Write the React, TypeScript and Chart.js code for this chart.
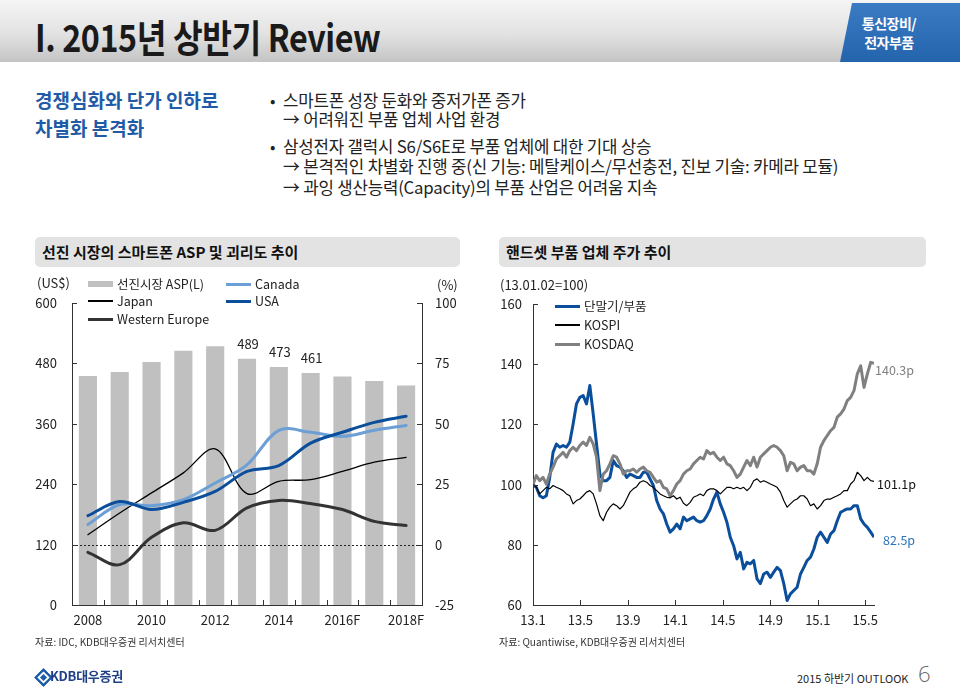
import React, { useEffect, useRef } from 'react';
import { Chart, registerables } from 'chart.js';

Chart.register(...registerables);

const FONT = '"Noto Sans CJK KR", "Noto Sans", sans-serif';

// ---------- Left chart data ----------
const aspYears = ['2008', '2009', '2010', '2011', '2012', '2013', '2014', '2015', '2016F', '2017F', '2018F'];
const aspTickLabels = ['2008', '', '2010', '', '2012', '', '2014', '', '2016F', '', '2018F'];
const aspValues = [455, 463, 483, 505, 514, 489, 473, 461, 454, 445, 436];
const aspLabelledIdx = [5, 6, 7];
const japanGap = [4.1, 13.1, 21.4, 29.7, 39.6, 21.1, 26.2, 26.9, 30.3, 34.1, 36.1];
const westernEuropeGap = [-3.2, -8.3, 3.0, 9.0, 5.9, 15.2, 18.3, 17.0, 14.5, 9.6, 7.9];
const canadaGap = [8.3, 16.6, 16.1, 18.6, 25.5, 33.0, 47.3, 46.5, 44.8, 47.3, 49.3];
const usaGap = [12.0, 17.8, 14.5, 17.5, 22.0, 30.3, 32.7, 42.0, 46.5, 50.6, 53.1];
const aspLeftTicks = [0, 120, 240, 360, 480, 600];
const aspRightTicks = [-25, 0, 25, 50, 75, 100];

// ---------- Right chart data (index, 13.01.02 = 100), sampled about every 6 trading days ----------
const SAMPLE_STEP_MONTHS = 0.2818;
const terminalIdx = [
  100, 99.1, 96.3, 95.6, 96.3, 102.4, 110.7, 113.5, 112.4, 113.0,
  112.4, 114.1, 120.1, 126.8, 129.0, 129.6, 126.8, 132.9, 123.5, 113.5,
  103.5, 101.3, 101.3, 102.4, 108.0, 106.3, 105.8, 104.6, 102.4, 103.5,
  103.0, 102.4, 102.4, 104.1, 104.1, 101.9, 99.7, 94.7, 91.9, 90.3,
  86.9, 84.2, 85.3, 86.9, 85.3, 89.2, 88.0, 88.6, 89.2, 88.0,
  87.5, 88.0, 89.7, 91.9, 95.2, 97.5, 93.6, 90.8, 87.5, 82.5,
  79.7, 75.3, 77.5, 72.0, 74.2, 73.7, 74.8, 68.7, 67.1, 70.3,
  70.9, 69.2, 70.9, 72.5, 71.4, 67.1, 61.5, 63.7, 64.8, 65.9,
  70.3, 72.5, 74.8, 75.9, 78.6, 82.5, 84.2, 82.5, 80.8, 83.6,
  84.7, 88.0, 90.8, 91.4, 91.9, 91.9, 93.0, 93.0, 88.6, 86.9,
  85.8, 84.2, 82.5,
];
const kospiIdx = [
  100, 99.1, 96.9, 98.0, 99.1, 98.6, 99.7, 99.1, 98.6, 98.0,
  96.9, 96.3, 93.6, 94.7, 95.2, 96.3, 97.5, 98.0, 96.9, 93.6,
  89.7, 88.0, 90.8, 92.5, 93.6, 93.0, 91.9, 93.0, 95.2, 97.5,
  98.6, 99.3, 100.8, 101.3, 100.8, 99.7, 99.1, 98.0, 96.9, 96.3,
  95.8, 95.6, 96.3, 95.2, 95.8, 93.8, 93.0, 94.1, 95.8, 96.3,
  96.9, 96.3, 98.0, 98.6, 98.6, 98.0, 96.9, 98.0, 99.1, 99.1,
  98.6, 99.1, 98.6, 99.1, 98.0, 99.1, 101.3, 101.9, 100.8, 101.3,
  100.8, 100.2, 99.7, 99.1, 97.5, 94.7, 92.5, 93.6, 94.7, 95.2,
  96.3, 96.3, 95.2, 93.0, 93.6, 91.9, 93.0, 94.7, 95.2, 95.2,
  95.8, 96.3, 96.9, 98.0, 98.0, 100.2, 101.3, 104.1, 103.0, 101.3,
  102.4, 101.3, 101.1,
];
const kosdaqIdx = [
  100, 103.0, 101.3, 102.4, 100.2, 103.5, 105.8, 108.5, 109.6, 110.7,
  109.1, 111.3, 112.4, 111.3, 113.0, 114.1, 113.0, 115.7, 113.5, 109.1,
  98.0, 103.5, 104.6, 106.9, 109.6, 109.1, 106.9, 103.5, 104.6, 104.6,
  105.2, 104.1, 105.2, 105.8, 104.6, 104.1, 102.4, 100.8, 101.3, 99.1,
  98.6, 96.3, 98.0, 100.2, 101.3, 103.5, 104.6, 105.2, 106.9, 108.0,
  109.1, 108.5, 111.3, 110.2, 110.7, 109.1, 108.0, 109.1, 106.9, 106.3,
  104.6, 102.4, 103.5, 105.8, 108.0, 106.3, 109.1, 105.8, 109.1, 110.2,
  111.3, 112.4, 113.0, 112.4, 111.3, 109.6, 104.6, 107.4, 106.9, 104.6,
  105.8, 106.3, 104.6, 104.6, 103.5, 106.9, 112.4, 114.6, 116.3, 117.9,
  119.0, 122.4, 123.5, 125.1, 127.9, 129.0, 131.2, 136.8, 139.5, 132.3,
  136.8, 140.6, 140.3,
];
const stockTickMonths = [0, 4, 8, 12, 16, 20, 24, 28];
const stockTickLabels = ['13.1', '13.5', '13.9', '14.1', '14.5', '14.9', '15.1', '15.5'];
const stockEndLabels = ['82.5p', '101.1p', '140.3p'];

const C_BAR = '#c0c0c0';
const C_USA = '#0b4e9b';
const C_CANADA = '#6b9fd5';
const C_JAPAN = '#000000';
const C_WEU = '#333333';
const C_TERM = '#0b4e9b';
const C_KOSPI = '#000000';
const C_KOSDAQ = '#808080';
const C_AXIS = '#333333';
const C_TEXT = '#222222';

function toXY(vals: number[]) {
  return vals.map((v, i) => ({ x: i * SAMPLE_STEP_MONTHS, y: v }));
}

function hLine(ctx: CanvasRenderingContext2D, x1: number, x2: number, y: number) {
  const yy = Math.round(y) + 0.5;
  ctx.beginPath();
  ctx.moveTo(x1, yy);
  ctx.lineTo(x2, yy);
  ctx.stroke();
}
function vLine(ctx: CanvasRenderingContext2D, x: number, y1: number, y2: number) {
  const xx = Math.round(x) + 0.5;
  ctx.beginPath();
  ctx.moveTo(xx, y1);
  ctx.lineTo(xx, y2);
  ctx.stroke();
}

const noScalePad = (s: any) => {
  s.paddingTop = 0;
  s.paddingBottom = 0;
  s.paddingLeft = 0;
  s.paddingRight = 0;
};

const leftDecor = {
  id: 'leftDecor',
  afterDatasetDraw(chart: any, args: any) {
    if (args.index !== 0) return;
    const { ctx, chartArea: a, scales } = chart;
    ctx.save();
    ctx.strokeStyle = '#222';
    ctx.lineWidth = 1;
    ctx.setLineDash([2, 2]);
    hLine(ctx, a.left, a.right, scales.y2.getPixelForValue(0));
    ctx.restore();
  },
  afterDraw(chart: any) {
    const { ctx, chartArea: a, scales } = chart;
    ctx.save();
    ctx.strokeStyle = C_AXIS;
    ctx.lineWidth = 1;
    scales.y.ticks.forEach((t: any) => hLine(ctx, a.left, a.left + 5, scales.y.getPixelForValue(t.value)));
    scales.y2.ticks.forEach((t: any) => hLine(ctx, a.right - 5, a.right, scales.y2.getPixelForValue(t.value)));
    for (let i = 1; i < aspYears.length; i++) {
      const px = (scales.x.getPixelForValue(i - 1) + scales.x.getPixelForValue(i)) / 2;
      vLine(ctx, px, a.bottom - 5, a.bottom);
    }
    const meta = chart.getDatasetMeta(0);
    ctx.fillStyle = C_TEXT;
    ctx.font = `13px ${FONT}`;
    ctx.textAlign = 'center';
    ctx.textBaseline = 'middle';
    aspLabelledIdx.forEach((i) => {
      const el = meta.data[i];
      ctx.fillText(String(aspValues[i]), el.x + 1, el.y - 15);
    });
    ctx.restore();
  },
};

const rightDecor = {
  id: 'rightDecor',
  afterDraw(chart: any) {
    const { ctx, chartArea: a, scales } = chart;
    ctx.save();
    ctx.strokeStyle = C_AXIS;
    ctx.lineWidth = 1;
    scales.y.ticks.forEach((t: any) => hLine(ctx, a.left, a.left + 5, scales.y.getPixelForValue(t.value)));
    scales.x.ticks.forEach((t: any) => vLine(ctx, scales.x.getPixelForValue(t.value), a.bottom - 5, a.bottom));
    ctx.font = `12.5px ${FONT}`;
    ctx.textAlign = 'left';
    ctx.textBaseline = 'middle';
    const offs = [
      [9, 3],
      [3, 3],
      [1, 7],
    ];
    chart.data.datasets.forEach((_ds: any, di: number) => {
      const meta = chart.getDatasetMeta(di);
      const last = meta.data[meta.data.length - 1];
      ctx.fillStyle = di === 0 ? '#2a74b8' : di === 1 ? '#111' : C_KOSDAQ;
      ctx.fillText(stockEndLabels[di], last.x + offs[di][0], last.y + offs[di][1]);
    });
    ctx.restore();
  },
};

function LeftChart() {
  const ref = useRef<HTMLCanvasElement>(null);
  useEffect(() => {
    const tickFont = { family: FONT, size: 13 };
    const lineDs = (label: string, data: number[], color: string, width: number, order: number) => ({
      type: 'line' as const,
      label,
      data,
      yAxisID: 'y2',
      borderColor: color,
      borderWidth: width,
      pointRadius: 0,
      tension: 0.35,
      order,
      borderCapStyle: 'round' as const,
    });
    const chart = new Chart(ref.current!, {
      type: 'bar',
      data: {
        labels: aspYears,
        datasets: [
          {
            type: 'bar',
            label: '선진시장 ASP(L)',
            data: aspValues,
            backgroundColor: C_BAR,
            barPercentage: 0.57,
            categoryPercentage: 1,
            yAxisID: 'y',
            order: 10,
          } as any,
          lineDs('Japan', japanGap, C_JAPAN, 1.3, 4),
          lineDs('Western Europe', westernEuropeGap, C_WEU, 3, 3),
          lineDs('Canada', canadaGap, C_CANADA, 3, 2),
          lineDs('USA', usaGap, C_USA, 3, 1),
        ],
      },
      options: {
        responsive: false,
        animation: false,
        devicePixelRatio: 1,
        layout: { padding: { top: 13, bottom: 0, left: 0, right: 0 } },
        plugins: { legend: { display: false }, tooltip: { enabled: false } },
        scales: {
          x: {
            type: 'category',
            offset: true,
            grid: { display: false, drawTicks: false },
            border: { display: true, color: C_AXIS, width: 1 },
            ticks: {
              autoSkip: false,
              maxRotation: 0,
              padding: 7,
              color: C_TEXT,
              font: tickFont,
              callback: (_v: any, i: number) => aspTickLabels[i],
            },
            afterFit: (s: any) => {
              s.height = 30;
              noScalePad(s);
            },
          },
          y: {
            position: 'left',
            min: 0,
            max: 600,
            grid: { display: false, drawTicks: false },
            border: { display: true, color: C_AXIS, width: 1 },
            afterBuildTicks: (s: any) => {
              s.ticks = aspLeftTicks.map((v) => ({ value: v }));
            },
            ticks: { padding: 15, color: C_TEXT, font: tickFont },
            afterFit: (s: any) => {
              s.width = 52;
              noScalePad(s);
            },
          },
          y2: {
            position: 'right',
            min: -25,
            max: 100,
            grid: { display: false, drawTicks: false },
            border: { display: true, color: C_AXIS, width: 1 },
            afterBuildTicks: (s: any) => {
              s.ticks = aspRightTicks.map((v) => ({ value: v }));
            },
            ticks: { padding: 13, color: C_TEXT, font: tickFont },
            afterFit: (s: any) => {
              s.width = 43;
              noScalePad(s);
            },
          },
        },
      },
      plugins: [leftDecor],
    });
    return () => chart.destroy();
  }, []);
  return (
    <canvas
      ref={ref}
      width={445}
      height={345}
      style={{ position: 'absolute', left: 20, top: 290, width: 445, height: 345 }}
    />
  );
}

function RightChart() {
  const ref = useRef<HTMLCanvasElement>(null);
  useEffect(() => {
    const tickFont = { family: FONT, size: 13 };
    const ds = (label: string, data: number[], color: string, width: number, order: number) => ({
      label,
      data: toXY(data),
      borderColor: color,
      borderWidth: width,
      pointRadius: 0,
      tension: 0,
      order,
      borderJoinStyle: 'round' as const,
    });
    const chart = new Chart(ref.current!, {
      type: 'line',
      data: {
        datasets: [
          ds('단말기/부품', terminalIdx, C_TERM, 3, 3),
          ds('KOSPI', kospiIdx, C_KOSPI, 1.2, 1),
          ds('KOSDAQ', kosdaqIdx, C_KOSDAQ, 3, 2),
        ],
      },
      options: {
        responsive: false,
        animation: false,
        devicePixelRatio: 1,
        layout: { padding: { top: 14, right: 46, left: 0, bottom: 0 } },
        plugins: { legend: { display: false }, tooltip: { enabled: false } },
        scales: {
          x: {
            type: 'linear',
            min: 0,
            max: 28.74,
            grid: { display: false, drawTicks: false },
            border: { display: true, color: C_AXIS, width: 1 },
            afterBuildTicks: (s: any) => {
              s.ticks = stockTickMonths.map((v) => ({ value: v }));
            },
            ticks: {
              autoSkip: false,
              maxRotation: 0,
              padding: 7,
              color: C_TEXT,
              font: tickFont,
              callback: (v: any) => stockTickLabels[stockTickMonths.indexOf(Number(v))],
            },
            afterFit: (s: any) => {
              s.height = 30;
              noScalePad(s);
            },
          },
          y: {
            min: 60,
            max: 160,
            grid: { display: false, drawTicks: false },
            border: { display: true, color: C_AXIS, width: 1 },
            ticks: { stepSize: 20, padding: 11, color: C_TEXT, font: tickFont },
            afterFit: (s: any) => {
              s.width = 53;
              noScalePad(s);
            },
          },
        },
      },
      plugins: [rightDecor],
    });
    return () => chart.destroy();
  }, []);
  return (
    <canvas
      ref={ref}
      width={440}
      height={345}
      style={{ position: 'absolute', left: 480, top: 290, width: 440, height: 345 }}
    />
  );
}

const abs = (left: number, top: number, extra: React.CSSProperties = {}): React.CSSProperties => ({
  position: 'absolute',
  left,
  top,
  whiteSpace: 'nowrap',
  ...extra,
});

function LegendItem({ x, y, color, h, label }: { x: number; y: number; color: string; h: number; label: string }) {
  return (
    <>
      <div style={abs(x, y - h / 2, { width: 25, height: h, background: color })} />
      <div style={abs(x + 29, y - 10, { fontSize: 12.5, lineHeight: '20px', color: C_TEXT })}>{label}</div>
    </>
  );
}

export default function App() {
  const bullets = [
    { y: 100, text: '스마트폰 성장 둔화와 중저가폰 증가', bullet: true },
    { y: 119, text: '→ 어려워진 부품 업체 사업 환경', bullet: false },
    { y: 146, text: '삼성전자 갤럭시 S6/S6E로 부품 업체에 대한 기대 상승', bullet: true },
    { y: 166, text: '→ 본격적인 차별화 진행 중(신 기능: 메탈케이스/무선충전, 진보 기술: 카메라 모듈)', bullet: false },
    { y: 187, text: '→ 과잉 생산능력(Capacity)의 부품 산업은 어려움 지속', bullet: false },
  ];
  return (
    <div
      style={{
        position: 'absolute',
        left: 0,
        top: 0,
        width: 960,
        height: 687,
        overflow: 'hidden',
        background: '#ffffff',
        fontFamily: FONT,
        color: C_TEXT,
      }}
    >
      {/* header */}
      <div
        style={abs(0, 0, {
          width: 960,
          height: 62,
          background: 'linear-gradient(180deg, #f5f5f5 0%, #e2e2e2 55%, #c4c4c4 100%)',
        })}
      />
      <div
        style={abs(35, 12, {
          fontSize: 38,
          fontWeight: 700,
          lineHeight: '48px',
          color: '#1a1a1a',
          transform: 'scaleX(0.85)',
          transformOrigin: 'left center',
          letterSpacing: -0.5,
        })}
      >
        I. 2015년 상반기 Review
      </div>
      <div
        style={abs(840, 3, {
          width: 120,
          height: 59,
          background: 'linear-gradient(180deg, #3a7bc4 0%, #2464ad 100%)',
          clipPath: 'polygon(12px 0, 100% 0, 100% 100%, 0 100%)',
          borderTopLeftRadius: 6,
        })}
      />
      <div
        style={abs(847, 14, {
          width: 84,
          textAlign: 'center',
          fontSize: 14,
          fontWeight: 700,
          lineHeight: '19px',
          color: '#ffffff',
          letterSpacing: -0.5,
        })}
      >
        통신장비/
        <br />
        전자부품
      </div>

      {/* summary */}
      <div style={abs(35, 86, { fontSize: 19, fontWeight: 700, color: '#1f5ba6', lineHeight: '28px' })}>
        경쟁심화와 단가 인하로
        <br />
        차별화 본격화
      </div>
      {bullets.map((b, i) => (
        <React.Fragment key={i}>
          {b.bullet && <div style={abs(270, b.y - 12, { fontSize: 16, lineHeight: '24px' })}>•</div>}
          <div
            style={abs(283, b.y - 12, {
              fontSize: 16.8,
              lineHeight: '24px',
              color: C_TEXT,
              letterSpacing: -0.2,
            })}
          >
            {b.text}
          </div>
        </React.Fragment>
      ))}

      {/* section titles */}
      <div style={abs(35, 237, { width: 425, height: 30, background: '#e3e3e3', borderRadius: 5 })} />
      <div style={abs(42, 241, { fontSize: 15, fontWeight: 700, lineHeight: '22px', color: '#111' })}>
        선진 시장의 스마트폰 ASP 및 괴리도 추이
      </div>
      <div style={abs(499, 237, { width: 427, height: 30, background: '#e3e3e3', borderRadius: 5 })} />
      <div style={abs(506, 241, { fontSize: 15, fontWeight: 700, lineHeight: '22px', color: '#111' })}>
        핸드셋 부품 업체 주가 추이
      </div>

      {/* left chart */}
      <LeftChart />
      <div style={abs(37, 273, { fontSize: 13, lineHeight: '20px' })}>(US$)</div>
      <div style={abs(437, 275, { fontSize: 13, lineHeight: '20px' })}>(%)</div>
      <LegendItem x={88} y={284} color={C_BAR} h={6} label="선진시장 ASP(L)" />
      <LegendItem x={88} y={301} color={C_JAPAN} h={1.3} label="Japan" />
      <LegendItem x={88} y={319} color={C_WEU} h={3} label="Western Europe" />
      <LegendItem x={226} y={284} color={C_CANADA} h={3} label="Canada" />
      <LegendItem x={226} y={301} color={C_USA} h={3} label="USA" />
      <div style={abs(35, 634, { fontSize: 10, lineHeight: '16px', color: '#333' })}>
        자료: IDC, KDB대우증권 리서치센터
      </div>

      {/* right chart */}
      <RightChart />
      <div style={abs(500, 275, { fontSize: 13, lineHeight: '20px' })}>(13.01.02=100)</div>
      <LegendItem x={555} y={306} color={C_TERM} h={3} label="단말기/부품" />
      <LegendItem x={555} y={325} color={C_KOSPI} h={1.3} label="KOSPI" />
      <LegendItem x={555} y={344} color={C_KOSDAQ} h={3} label="KOSDAQ" />
      <div style={abs(499, 634, { fontSize: 10, lineHeight: '16px', color: '#333' })}>
        자료: Quantiwise, KDB대우증권 리서치센터
      </div>

      {/* footer */}
      <div
        style={abs(37, 671, {
          width: 9,
          height: 9,
          background: '#1d5ca8',
          transform: 'rotate(45deg)',
          border: '2px solid #1d5ca8',
          boxShadow: 'inset 0 0 0 2px #fff',
        })}
      />
      <div style={abs(50, 667, { fontSize: 13, fontWeight: 700, lineHeight: '18px', color: '#1f3f86', letterSpacing: -0.3 })}>
        KDB대우증권
      </div>
      <div style={abs(797, 670, { fontSize: 11, lineHeight: '16px', color: '#222' })}>2015 하반기 OUTLOOK</div>
      <div style={abs(918, 660, { fontSize: 22, fontWeight: 300, lineHeight: '26px', color: '#666', fontFamily: '"Open Sans", sans-serif' })}>
        6
      </div>
    </div>
  );
}
